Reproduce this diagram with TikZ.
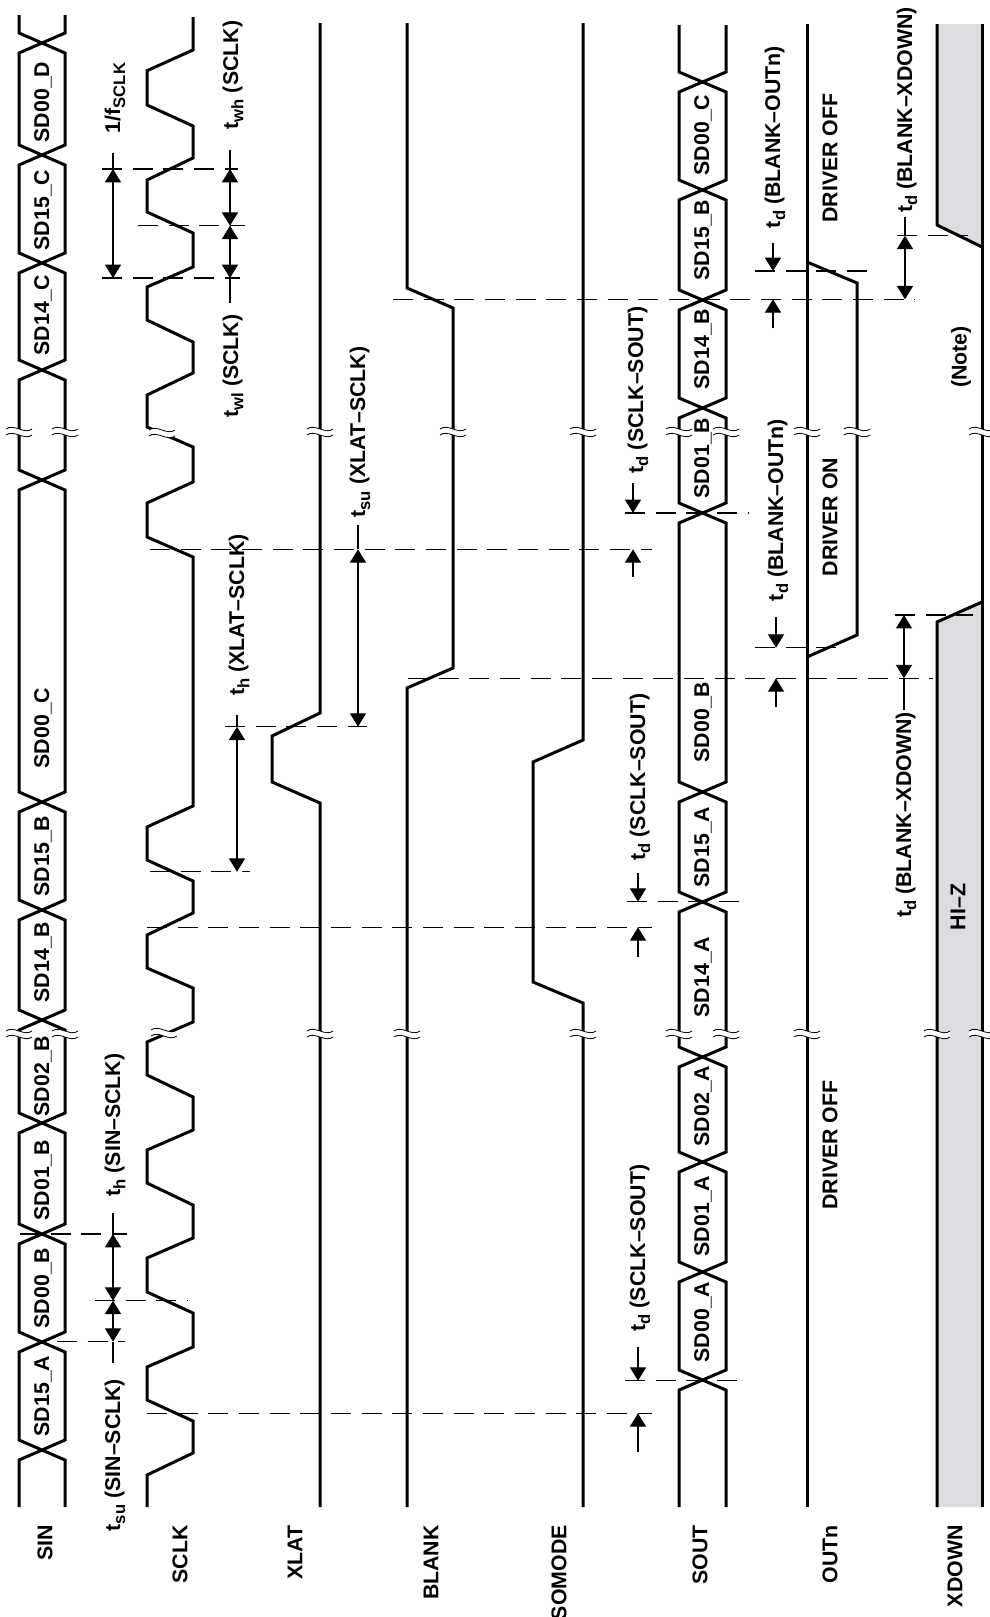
\documentclass[tikz,border=0pt]{standalone}
\usepackage{fontspec}
\setmainfont{Liberation Sans}
\usetikzlibrary{arrows.meta}
\definecolor{hizgray}{RGB}{220,221,225}
\tikzset{
  sig/.style={line width=2.25pt, line join=miter},
  gridline/.style={line width=0.9pt, dash pattern={on 15pt off 8pt}},
  dimline/.style={line width=0.9pt},
  dimarrow/.style={line width=0.9pt, -{Triangle[length=10pt,width=12pt]}},
  dimboth/.style={line width=0.9pt, {Triangle[length=10pt,width=12pt]}-{Triangle[length=10pt,width=12pt]}},
  lbl/.style={rotate=90, inner sep=0.75pt, font=\fontsize{16}{19}\selectfont\bfseries},
  brkline/.style={line width=0.6pt}
}
% lowered subscript for timing labels
\newcommand{\lsub}[1]{\raisebox{-0.45ex}{\fontsize{12.5}{13}\selectfont #1}}
% break mark across a signal line
\newcommand{\brkmark}[2]{%
  \fill[white] (#1-13,#2-3) .. controls (#1-5,#2-9) and (#1+5,#2+3) .. (#1+13,#2-3) -- (#1+13,#2+3) .. controls (#1+5,#2+9) and (#1-5,#2-3) .. (#1-13,#2+3) -- cycle;
  \draw[brkline] (#1-13,#2-3) .. controls (#1-5,#2-9) and (#1+5,#2+3) .. (#1+13,#2-3);
  \draw[brkline] (#1-13,#2+3) .. controls (#1-5,#2-3) and (#1+5,#2+9) .. (#1+13,#2+3);
}
\begin{document}
\begin{tikzpicture}[x=0.75pt,y=0.75pt,yscale=-1,xscale=1]
\useasboundingbox (0,0) rectangle (989,1617);

%Shape: XDOWN hi-z fills
\fill[hizgray] (937,24) -- (982,24) -- (982,247) -- (937,225) -- cycle;
\fill[hizgray] (937,622) -- (982,602) -- (982,1507) -- (937,1507) -- cycle;

%Straight Lines: dashed timing references
\draw[gridline] (102,169) -- (238,169);
\draw[gridline] (138,225.7) -- (245,225.7);
\draw[gridline] (102,278) -- (240,278);
\draw[gridline] (393,299.3) -- (915,299.3);
\draw[gridline] (755,271) -- (875,271);
\draw[gridline] (897,235.7) -- (968,235.7);
\draw[gridline] (150,549.3) -- (652,549.3);
\draw[gridline] (625,513) -- (748,513);
\draw[gridline] (225,726.7) -- (367,726.7);
\draw[gridline] (150,871.7) -- (250,871.7);
\draw[gridline] (147,927.3) -- (652,927.3);
\draw[gridline] (627,901.7) -- (747,901.7);
\draw[gridline] (408,678.3) -- (933,678.3);
\draw[gridline] (755,647.7) -- (847,647.7);
\draw[gridline] (895,615) -- (973,615);
\draw[gridline] (20,1234) -- (127,1234);
\draw[gridline] (95,1300.7) -- (188,1300.7);
\draw[gridline] (57,1341.7) -- (125,1341.7);
\draw[gridline] (147,1413.3) -- (652,1413.3);
\draw[gridline] (625,1380.7) -- (747,1380.7);

%Straight Lines: SIN bus
\draw[sig] (19,15) -- (19,33) -- (65,53) -- (65,145) -- (19,165) -- (19,253) -- (65,273) -- (65,360) -- (19,380) -- (19,470) -- (65,490) -- (65,792) -- (19,812) -- (19,900) -- (65,920) -- (65,1010) -- (19,1030) -- (19,1113) -- (65,1133) -- (65,1224) -- (19,1244) -- (19,1332) -- (65,1352) -- (65,1440) -- (19,1460) -- (19,1507);
\draw[sig] (65,15) -- (65,33) -- (19,53) -- (19,145) -- (65,165) -- (65,253) -- (19,273) -- (19,360) -- (65,380) -- (65,470) -- (19,490) -- (19,792) -- (65,812) -- (65,900) -- (19,920) -- (19,1010) -- (65,1030) -- (65,1113) -- (19,1133) -- (19,1224) -- (65,1244) -- (65,1332) -- (19,1352) -- (19,1440) -- (65,1460) -- (65,1507);
%Straight Lines: SCLK
\draw[sig] (193,17) -- (193,50) -- (147,70.7) -- (147,105) -- (193,126) -- (193,158) -- (147,180) -- (147,212) -- (193,233) -- (193,267) -- (147,287) -- (147,320) -- (193,342) -- (193,373) -- (147,395) -- (147,427) -- (193,447) -- (193,482) -- (147,503) -- (147,537) -- (193,557) -- (193,806) -- (147,827) -- (147,860) -- (193,881) -- (193,913) -- (147,935) -- (147,968) -- (193,988) -- (193,1022) -- (147,1042) -- (147,1075) -- (193,1097) -- (193,1130) -- (147,1150) -- (147,1183) -- (193,1205) -- (193,1238) -- (147,1258) -- (147,1292) -- (193,1313) -- (193,1347) -- (147,1367) -- (147,1400) -- (193,1421) -- (193,1453) -- (147,1475) -- (147,1507);
%Straight Lines: XLAT
\draw[sig] (320,23) -- (320,713) -- (272,736) -- (272,782) -- (320,803) -- (320,1507);
%Straight Lines: BLANK
\draw[sig] (407,23) -- (407,288) -- (453,308) -- (453,668) -- (407,688) -- (407,1507);
%Straight Lines: SOMODE
\draw[sig] (583,23) -- (583,740) -- (533,762) -- (533,982) -- (583,1003) -- (583,1507);
%Straight Lines: SOUT bus
\draw[sig] (679,25) -- (679,72) -- (726,92) -- (726,180) -- (679,200) -- (679,290) -- (726,310) -- (726,398) -- (679,418) -- (679,503) -- (726,523) -- (726,782) -- (679,802) -- (679,892) -- (726,912) -- (726,1047) -- (679,1067) -- (679,1152) -- (726,1172) -- (726,1262) -- (679,1282) -- (679,1370) -- (726,1390) -- (726,1507);
\draw[sig] (726,25) -- (726,72) -- (679,92) -- (679,180) -- (726,200) -- (726,290) -- (679,310) -- (679,398) -- (726,418) -- (726,503) -- (679,523) -- (679,782) -- (726,802) -- (726,892) -- (679,912) -- (679,1047) -- (726,1067) -- (726,1152) -- (679,1172) -- (679,1262) -- (726,1282) -- (726,1370) -- (679,1390) -- (679,1507);
%Straight Lines: OUTn
\draw[sig] (807,24) -- (807,1507);
\draw[sig] (807,262) -- (857,283) -- (857,635) -- (807,657);
%Straight Lines: XDOWN
\draw[sig] (982,24) -- (982,1507);
\draw[sig] (937,24) -- (937,225) -- (982,247);
\draw[sig] (937,1507) -- (937,622) -- (982,602);

%Breaks
\brkmark{19}{432} \brkmark{65}{432} \brkmark{162}{433} \brkmark{320}{432} \brkmark{453}{432} \brkmark{583}{432} \brkmark{679}{432} \brkmark{726}{432} \brkmark{807}{432} \brkmark{857}{432} \brkmark{982}{432}
\brkmark{19}{1034} \brkmark{65}{1034} \brkmark{164}{1033} \brkmark{320}{1034} \brkmark{407}{1034} \brkmark{583}{1034} \brkmark{679}{1034} \brkmark{726}{1034} \brkmark{807}{1034} \brkmark{937}{1034} \brkmark{982}{1034}

%Straight Lines: dimension arrows
\draw[dimline] (113,153) -- (113,169);
\draw[dimboth] (113,169) -- (113,278);
\draw[dimline] (230,150) -- (230,169);
\draw[dimboth] (230,169) -- (230,225.7);
\draw[dimboth] (230,225.7) -- (230,278);
\draw[dimline] (230,278) -- (230,303);
\draw[dimarrow] (773,243) -- (773,271);
\draw[dimarrow] (773,328) -- (773,299.3);
\draw[dimline] (905,217) -- (905,235.7);
\draw[dimboth] (905,235.7) -- (905,299.3);
\draw[dimline] (358,525) -- (358,549.3);
\draw[dimboth] (358,549.3) -- (358,726.7);
\draw[dimline] (237,715) -- (237,726.7);
\draw[dimboth] (237,726.7) -- (237,871.7);
\draw[dimarrow] (633,483) -- (633,513);
\draw[dimarrow] (633,577) -- (633,549.3);
\draw[dimarrow] (776,617) -- (776,647.7);
\draw[dimarrow] (776,707) -- (776,678.3);
\draw[dimarrow] (638,873) -- (638,901.7);
\draw[dimarrow] (638,957) -- (638,927.3);
\draw[dimboth] (904,615) -- (904,678.3);
\draw[dimline] (904,678.3) -- (904,710);
\draw[dimline] (113,1213) -- (113,1234);
\draw[dimboth] (113,1234) -- (113,1300.7);
\draw[dimboth] (113,1300.7) -- (113,1341.7);
\draw[dimline] (113,1341.7) -- (113,1363);
\draw[dimarrow] (638,1347) -- (638,1380.7);
\draw[dimarrow] (638,1452) -- (638,1413.3);

% Text Node: SIN data
\node[lbl] (sin1) at (43,102) {SD00\_D};
\node[lbl] (sin2) at (43,210) {SD15\_C};
\node[lbl] (sin3) at (43,315) {SD14\_C};
\node[lbl] (sin4) at (43,728) {SD00\_C};
\node[lbl] (sin5) at (43,856) {SD15\_B};
\node[lbl] (sin6) at (43,962) {SD14\_B};
\node[lbl] (sin7) at (43,1076) {SD02\_B};
\node[lbl] (sin8) at (43,1180) {SD01\_B};
\node[lbl] (sin9) at (43,1288) {SD00\_B};
\node[lbl] (sin10) at (43,1396) {SD15\_A};
% Text Node: SOUT data
\node[lbl] (sout1) at (703,135) {SD00\_C};
\node[lbl] (sout2) at (703,240) {SD15\_B};
\node[lbl] (sout3) at (703,349) {SD14\_B};
\node[lbl] (sout4) at (703,458) {SD01\_B};
\node[lbl] (sout5) at (703,722) {SD00\_B};
\node[lbl] (sout6) at (703,847) {SD15\_A};
\node[lbl] (sout7) at (703,977) {SD14\_A};
\node[lbl] (sout8) at (703,1106) {SD02\_A};
\node[lbl] (sout9) at (703,1216) {SD01\_A};
\node[lbl] (sout10) at (703,1322) {SD00\_A};
% Text Node: timing parameters
\node[lbl] (fsclk) at (115,98) {1/f\lsub{SCLK}};
\node[lbl] (twh) at (233,75) {t\lsub{wh} (SCLK)};
\node[lbl] (twl) at (233,366) {t\lsub{wl} (SCLK)};
\node[lbl] (tdbo1) at (775,137) {t\lsub{d} (BLANK–OUTn)};
\node[lbl] (tdbx1) at (907,110) {t\lsub{d} (BLANK–XDOWN)};
\node[lbl] (tsuxs) at (360,432) {t\lsub{su} (XLAT–SCLK)};
\node[lbl] (thxs) at (239,615) {t\lsub{h} (XLAT–SCLK)};
\node[lbl] (tdss1) at (638,390) {t\lsub{d} (SCLK–SOUT)};
\node[lbl] (tdbo2) at (778,510) {t\lsub{d} (BLANK–OUTn)};
\node[lbl] (tdss2) at (640,777) {t\lsub{d} (SCLK–SOUT)};
\node[lbl] (tdbx2) at (906,815) {t\lsub{d} (BLANK–XDOWN)};
\node[lbl] (thss) at (115,1125) {t\lsub{h} (SIN–SCLK)};
\node[lbl] (tsuss) at (115,1455) {t\lsub{su} (SIN–SCLK)};
\node[lbl] (tdss3) at (640,1248) {t\lsub{d} (SCLK–SOUT)};
% Text Node: states
\node[lbl] (drvoff1) at (830,158) {DRIVER OFF};
\node[lbl] (drvon) at (830,517) {DRIVER ON};
\node[lbl] (drvoff2) at (830,1145) {DRIVER OFF};
\node[lbl] (note) at (961,357) {(Note)};
\node[lbl] (hiz) at (958,907) {HI–Z};
% Text Node: signal names
\node[lbl,anchor=east] (nsin) at (45,1524) {SIN};
\node[lbl,anchor=east] (nsclk) at (180,1524) {SCLK};
\node[lbl,anchor=east] (nxlat) at (295,1524) {XLAT};
\node[lbl,anchor=east] (nblank) at (431,1524) {BLANK};
\node[lbl,anchor=east] (nsomode) at (559,1524) {SOMODE};
\node[lbl,anchor=east] (nsout) at (700,1524) {SOUT};
\node[lbl,anchor=east] (noutn) at (830,1524) {OUTn};
\node[lbl,anchor=east] (nxdown) at (955,1524) {XDOWN};
\end{tikzpicture}
\end{document}
